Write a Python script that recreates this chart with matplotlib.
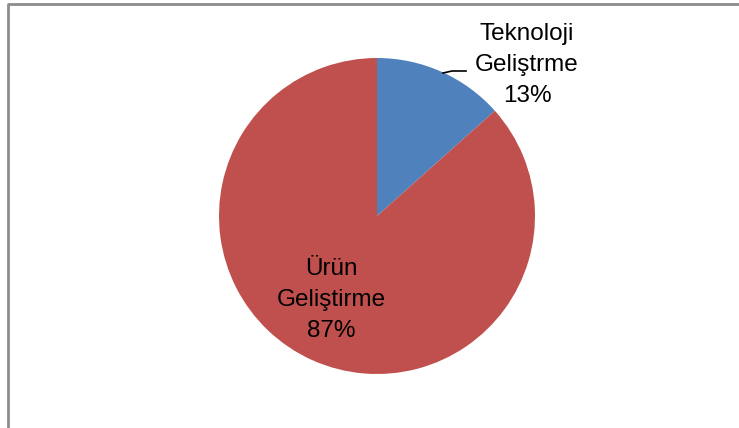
import matplotlib
matplotlib.use("Agg")
import matplotlib.pyplot as plt

labels = ["Teknoloji\nGeliştrme", "Ürün\nGeliştirme"]
values = [13.4, 86.6]
colors = ["#4F81BD", "#C0504D"]

W, H = 739, 428
fig = plt.figure(figsize=(W / 100, H / 100), dpi=100)
ax = fig.add_axes([0, 0, 1, 1])

cx, cy, r = 377, H - 216, 158
wedges, _ = ax.pie(values, colors=colors, startangle=90, counterclock=False,
                   center=(cx, cy), radius=r, frame=True)
ax.set_xlim(0, W)
ax.set_ylim(0, H)
ax.set_aspect("equal")
ax.axis("off")

plt.rcParams["font.family"] = ["Liberation Sans", "DejaVu Sans"]
fs = 17.5
# etiketler
ax.text(527, H - 65, "{}\n{:.0f}%".format(labels[0], values[0]), ha="center", va="center",
        fontsize=fs, linespacing=1.55)
ax.text(331, H - 300, "{}\n{:.0f}%".format(labels[1], values[1]), ha="center", va="center",
        fontsize=fs, linespacing=1.55)
ax.plot([443, 452, 466], [H - 73, H - 71, H - 71], color="black", lw=1.2)

# cerceve
ax.plot([7.5, 7.5, W], [0, H - 3.5, H - 3.5], color="#8c8c8c", lw=2, solid_capstyle="butt")

fig.savefig("out.png", dpi=100)
